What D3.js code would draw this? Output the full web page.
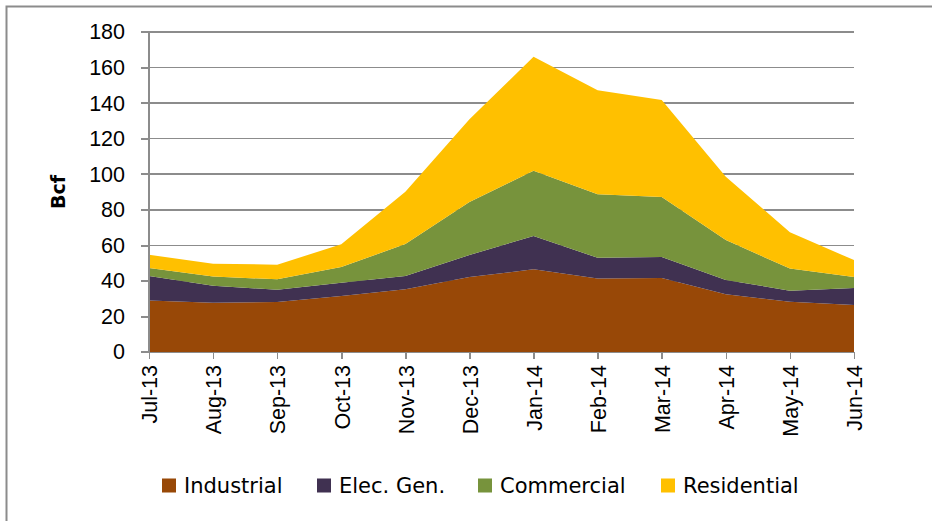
<!DOCTYPE html>
<meta charset="utf-8">
<style>
html, body {
  margin: 0;
  background: #fff;
}

svg {
  display: block;
  font-family: "DejaVu Sans", "Liberation Sans", Arial, sans-serif;
}

.grid line,
.axis line,
.axis path {
  stroke: #8c8c8c;
  stroke-width: 1.5;
  shape-rendering: crispEdges;
}

.axis text {
  font-size: 21.5px;
  fill: #000;
}
</style>
<body>
<svg class="chart" width="932" height="521"></svg>

<script src="https://d3js.org/d3.v7.min.js"></script>
<script>
"use strict";

var months = ["Jul-13", "Aug-13", "Sep-13", "Oct-13", "Nov-13", "Dec-13",
  "Jan-14", "Feb-14", "Mar-14", "Apr-14", "May-14", "Jun-14"];
var seriesNames = ["Industrial", "Elec. Gen.", "Commercial", "Residential"];
var industrial = [28.9, 27.7, 28.1, 31.5, 35.3, 42.2, 46.5, 41.4, 41.6, 32.5, 28.3, 26.4];
var elecGen = [13.8, 9.6, 6.9, 7.5, 7.4, 12.4, 18.7, 11.6, 11.8, 8.0, 6.2, 9.6];
var commercial = [4.5, 5.1, 5.9, 8.8, 18.0, 29.8, 36.8, 35.7, 33.8, 22.5, 12.4, 6.2];
var residential = [7.5, 7.3, 8.2, 12.8, 29.5, 46.5, 64.1, 58.5, 54.5, 35.6, 20.4, 9.5];
var yTicks = [0, 20, 40, 60, 80, 100, 120, 140, 160, 180];
var colors = ["#984807", "#403151", "#77933c", "#ffc000"];

var margin = { top: 32, left: 149 },
  width = 705,
  height = 320;

var rows = months.map(function(m, i) {
  return {
    month: m,
    "Industrial": industrial[i],
    "Elec. Gen.": elecGen[i],
    "Commercial": commercial[i],
    "Residential": residential[i]
  };
});

var svg = d3.select(".chart");

// outer frame, only its top and left edges fall inside the window
svg.append("rect")
  .attr("x", 6.5)
  .attr("y", 6.5)
  .attr("width", 960)
  .attr("height", 560)
  .attr("fill", "none")
  .attr("stroke", "#8c8c8c")
  .attr("stroke-width", 2);

var g = svg.append("g")
  .attr("transform", "translate(" + margin.left + "," + margin.top + ")");

var x = d3.scalePoint().domain(months).range([0, width]);
var y = d3.scaleLinear().domain([0, 180]).range([height, 0]);
var color = d3.scaleOrdinal().domain(seriesNames).range(colors);

// gridlines
g.append("g")
  .attr("class", "grid")
  .selectAll("line")
  .data(yTicks)
  .join("line")
  .attr("x1", -8)
  .attr("x2", width)
  .attr("y1", function(d) { return y(d); })
  .attr("y2", function(d) { return y(d); });

var stacked = d3.stack().keys(seriesNames)(rows);

var area = d3.area()
  .x(function(d) { return x(d.data.month); })
  .y0(function(d) { return y(d[0]); })
  .y1(function(d) { return y(d[1]); });

g.append("g")
  .selectAll("path")
  .data(stacked)
  .join("path")
  .attr("fill", function(d) { return color(d.key); })
  .attr("d", area);

// y axis
var yAxis = g.append("g")
  .attr("class", "axis")
  .call(d3.axisLeft(y).tickValues(yTicks).tickSize(8).tickPadding(16));
yAxis.select(".domain").attr("d", "M0,0V" + height);

// x axis
var xAxis = g.append("g")
  .attr("class", "axis")
  .attr("transform", "translate(0," + height + ")")
  .call(d3.axisBottom(x).tickSize(7).tickSizeOuter(0));
xAxis.select(".domain").remove();
xAxis.selectAll("text")
  .attr("transform", "rotate(-90)")
  .attr("x", -13)
  .attr("y", 0)
  .attr("dy", "0.36em")
  .attr("text-anchor", "end");

// axis title
svg.append("text")
  .attr("transform", "translate(65,192) rotate(-90)")
  .attr("text-anchor", "middle")
  .attr("font-size", "19px")
  .attr("font-weight", "bold")
  .text("Bcf");

// legend
var legendX = [162, 317, 478, 661];
var legend = svg.append("g")
  .selectAll("g")
  .data(seriesNames)
  .join("g")
  .attr("transform", function(d, i) { return "translate(" + legendX[i] + ",478.5)"; });

legend.append("rect")
  .attr("width", 14)
  .attr("height", 14)
  .attr("fill", function(d) { return color(d); });

legend.append("text")
  .attr("x", 22)
  .attr("y", 14)
  .attr("font-size", "21px")
  .text(function(d) { return d; });
</script>
</body>
